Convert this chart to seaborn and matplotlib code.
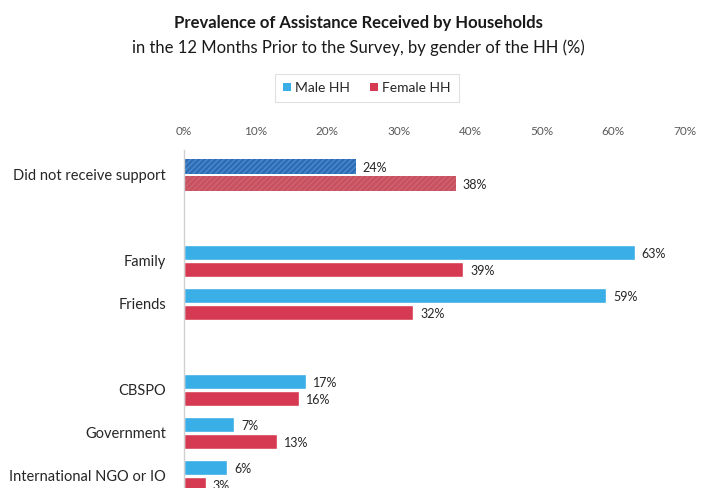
import matplotlib
matplotlib.use("Agg")
import matplotlib.pyplot as plt
from matplotlib.patches import Patch
import seaborn as sns
import pandas as pd

# Assistance sources (blank entries are spacer rows between groups)
categories = ["Did not receive support", "Family", "Friends",
              "CBSPO", "Government", "International NGO or IO"]
row_order = ["Did not receive support", " ", "Family", "Friends", "  ",
             "CBSPO", "Government", "International NGO or IO"]
male_hh = [24, 63, 59, 17, 7, 6]
female_hh = [38, 39, 32, 16, 13, 3]
series = ["Male HH", "Female HH"]
tick_values = [0, 10, 20, 30, 40, 50, 60, 70]
tick_labels = [f"{v}%" for v in tick_values]

df = pd.DataFrame({
    "source": categories * 2,
    "pct": male_hh + female_hh,
    "group": [series[0]] * len(categories) + [series[1]] * len(categories),
})

sns.set_theme(style="white")
plt.rcParams["font.family"] = ["Lato", "DejaVu Sans"]

colors = {"Male HH": "#3aaee6", "Female HH": "#d63a52"}

fig = plt.figure(figsize=(7.08, 4.88), dpi=100)
ax = fig.add_axes([0.26, 0.0, 0.7075, 0.693])

sns.barplot(data=df, y="source", x="pct", hue="group", order=row_order,
            hue_order=series, palette=colors, orient="h", width=0.8,
            gap=0.12, saturation=1, legend=False, ax=ax)

ax.set_xlim(0, 70)
ax.set_ylim(7.28, -0.58)
ax.set_xticks(tick_values)
ax.set_xticklabels(tick_labels)
ax.xaxis.tick_top()
ax.tick_params(axis="x", length=0, pad=9, labelsize=8.5, labelcolor="#595959")
ax.tick_params(axis="y", length=0, pad=13, labelsize=10.5, labelcolor="#262626")
ax.set_xlabel("")
ax.set_ylabel("")
for side in ["top", "right", "bottom"]:
    ax.spines[side].set_visible(False)
ax.spines["left"].set_color("#d0d0d0")
ax.spines["left"].set_linewidth(1.0)

# "Did not receive support" bars are shaded darker with a diagonal hatch
plt.rcParams["hatch.linewidth"] = 1.0
special = {"Male HH": ("#2d6bb3", "#4a8ad0"), "Female HH": ("#c8505f", "#cf6371")}
for container, name in zip(ax.containers, series):
    for bar in container:
        yc = bar.get_y() + bar.get_height() / 2
        if abs(yc) < 0.5:
            face, hatch_col = special[name]
            bar.set_facecolor(face)
            bar.set_edgecolor(hatch_col)
            bar.set_linewidth(0)
            bar.set_hatch("//////")
        val = bar.get_width()
        ax.annotate(f"{val:.0f}%", xy=(val, yc), xytext=(5, -1),
                    textcoords="offset points", ha="left", va="center",
                    fontsize=9, color="#262626")

# Titles
fig.text(0.506, 0.953, "Prevalence of Assistance Received by Households",
         ha="center", va="center", fontsize=12, fontweight="bold",
         color="#1a1a1a")
fig.text(0.506, 0.902,
         "in the 12 Months Prior to the Survey, by gender of the HH (%)",
         ha="center", va="center", fontsize=12, color="#1a1a1a")

# Legend
handles = [Patch(facecolor=colors[s], edgecolor="none") for s in series]
leg = fig.legend(handles, series, loc="center", bbox_to_anchor=(0.518, 0.82),
                 ncol=2, frameon=True, fontsize=10, handlelength=0.6,
                 handleheight=0.6, handletextpad=0.3, columnspacing=1.4,
                 borderpad=0.6, fancybox=False)
leg.get_frame().set_edgecolor("#d9d9d9")
leg.get_frame().set_linewidth(0.8)
for t in leg.get_texts():
    t.set_color("#262626")

fig.savefig("out.png", dpi=100, facecolor="white")
